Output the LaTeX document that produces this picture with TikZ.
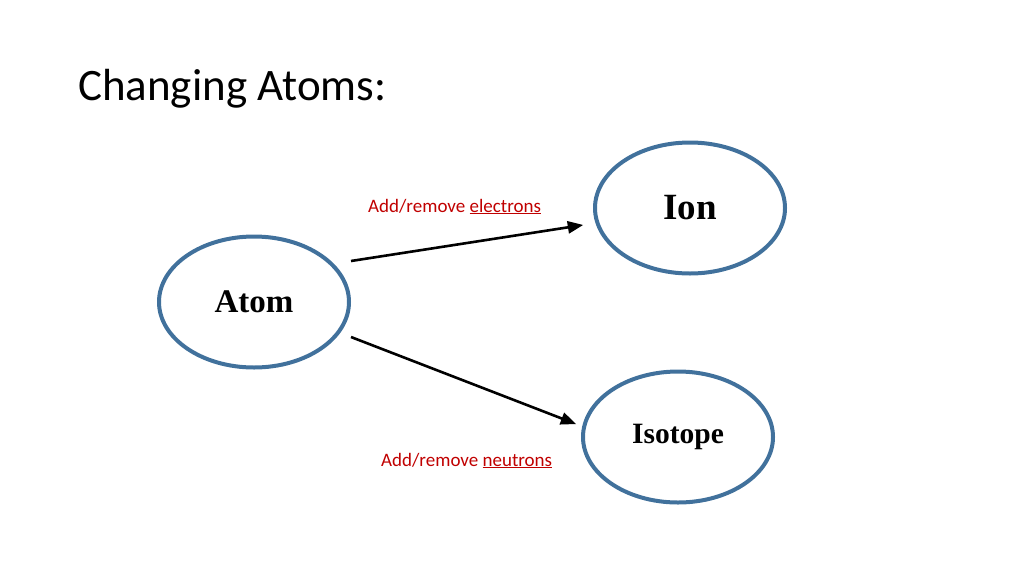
\documentclass[tikz,border=0pt]{standalone}
\usepackage{fontspec}
\setmainfont{Liberation Serif}
\newfontfamily\slidefont{Carlito}
\usepackage{tikz}
\usetikzlibrary{arrows}
\usetikzlibrary{shapes.geometric}
\usepackage{xcolor}
\definecolor{ringblue}{RGB}{65,113,156}
\definecolor{notered}{RGB}{192,0,0}

\begin{document}
\begin{tikzpicture}[x=1pt, y=-1pt,
    bubble/.style={ellipse, draw=ringblue, line width=4pt, fill=white, minimum width=190pt, minimum height=131pt, inner sep=0pt, font=\bfseries},
    change/.style={-triangle 45, line width=2.6pt, black},
    note/.style={anchor=base west, inner sep=0pt, text=notered, font=\slidefont\fontsize{19}{22}\selectfont}]

      \useasboundingbox (0, 0) rectangle (1024, 576);

      \node[anchor=base west, inner sep=0pt, font=\slidefont\fontsize{45}{54}\selectfont] (title) at (78, 100) {Changing Atoms:};

      \node[bubble] (atom) at (254, 302) {\fontsize{33}{40}\selectfont Atom};
      \node[bubble] (ion) at (690, 208) {\fontsize{37}{44}\selectfont Ion};
      \node[bubble] (isotope) at (678, 437) {\fontsize{29.5}{36}\selectfont Isotope};

      \coordinate (ionin) at (583, 225);
      \coordinate (isoin) at (576, 424);

      \draw[change] (atom.east |- 0, 261) -- (ionin);
      \draw[change] (atom.east |- 0, 337) -- (isoin);

      \node[note] (electronsnote) at (368, 212) {Add/remove \underline{electrons}};
      \node[note] (neutronsnote) at (381, 466) {Add/remove \underline{neutrons}};

    \end{tikzpicture}
\end{document}
